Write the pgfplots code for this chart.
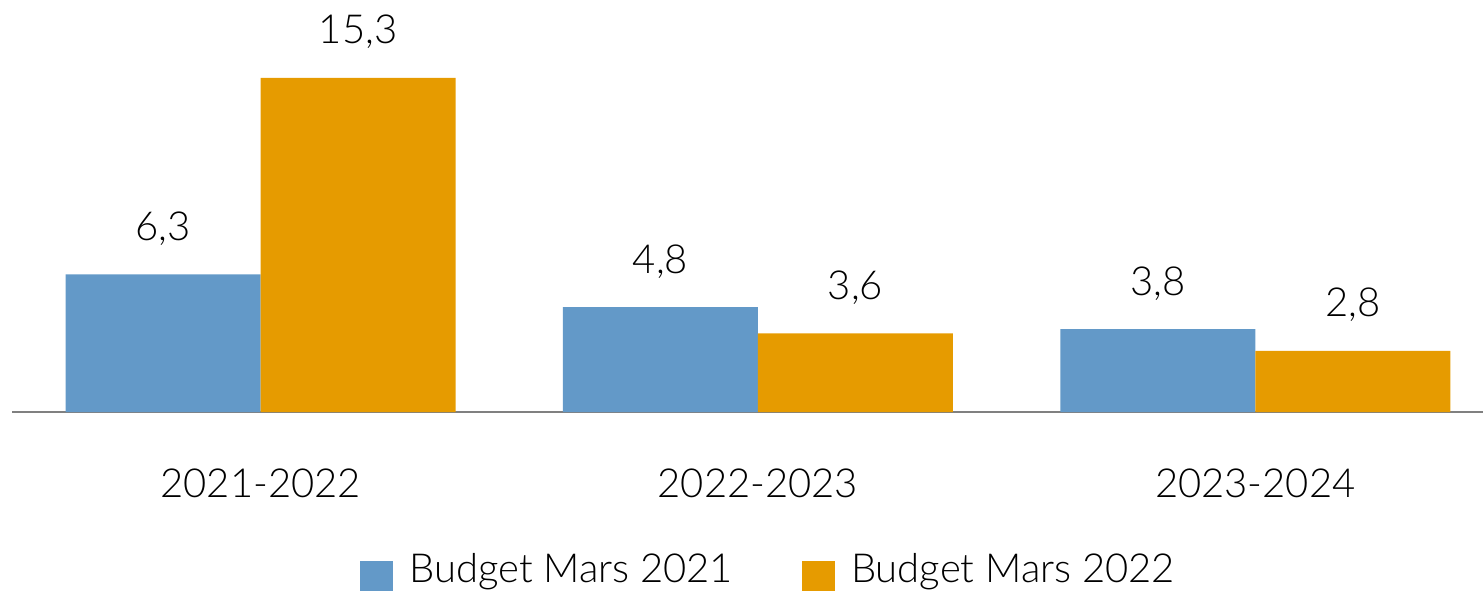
\documentclass[border=0pt]{standalone}
\usepackage{pgfplots}
\pgfplotsset{compat=1.18}
\usepackage{fontspec}
\setmainfont{Lato}[UprightFont=* Light]
\definecolor{cblue}{HTML}{6399C8}
\definecolor{corange}{HTML}{E69B00}
\definecolor{cgray}{HTML}{808080}
\begin{document}
\begin{tikzpicture}
\begin{axis}[
  at={(6pt,89pt)}, anchor=south west,
  scale only axis, width=735.5pt, height=206pt,
  ybar=0pt, bar width=97.5pt,
  xmin=-0.5, xmax=2.458, ymin=0, ymax=18.87,
  xtick={0,1,2},
  xticklabels={2021-2022,2022-2023,2023-2024},
  xtick style={draw=none},
  axis x line*=bottom,
  axis y line=none,
  x axis line style={-, draw=cgray, line width=1pt},
  xticklabel style={anchor=base, yshift=-38.5pt, font=\fontsize{20}{23}\selectfont},
  nodes near coords,
  nodes near coords style={font=\fontsize{20}{23}\selectfont, anchor=base, yshift=17pt,
    /pgf/number format/.cd, use comma, fixed, fixed zerofill, precision=1, assume math mode=true},
  legend columns=2,
  legend style={draw=none, at={(0.515,-0.388)}, anchor=center,
    font=\fontsize{20}{23}\selectfont,
    /tikz/every odd column/.append style={column sep=6pt},
    /tikz/every even column/.append style={column sep=32.5pt}},
  legend image code/.code={\fill[#1] (0pt,-12.5pt) rectangle (16.5pt,4pt);},
]
\addplot[fill=cblue, draw=none] coordinates {(0,6.3) (1,4.8) (2,3.8)};
\addplot[fill=corange, draw=none] coordinates {(0,15.3) (1,3.6) (2,2.8)};
\legend{Budget Mars 2021, Budget Mars 2022}
\end{axis}
\pgfresetboundingbox
\path (0,0) rectangle (741.5pt,295pt);
\end{tikzpicture}
\end{document}
